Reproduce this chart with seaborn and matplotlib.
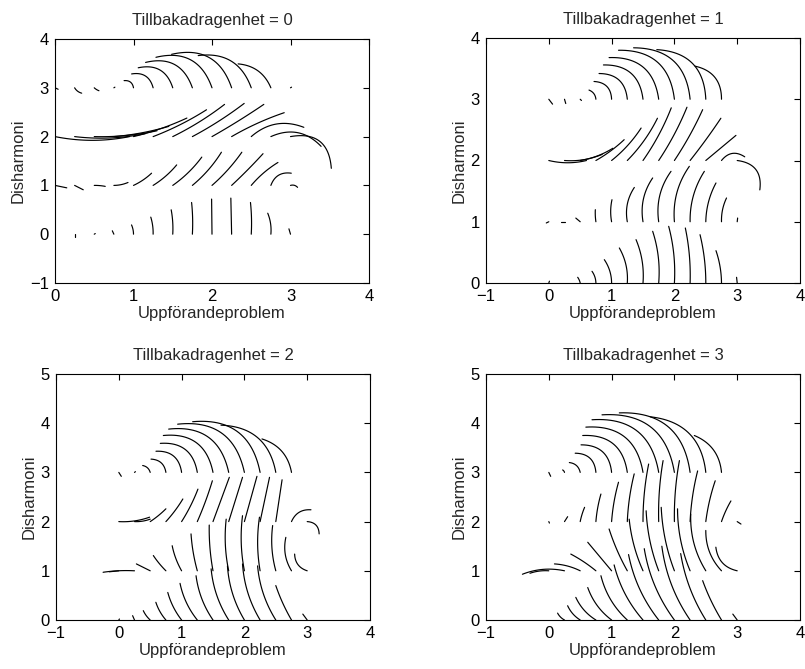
import numpy as np
import pandas as pd
import matplotlib
matplotlib.use("Agg")
import matplotlib.pyplot as plt
import seaborn as sns

sns.set_style("white")
plt.rcParams['font.family'] = ['Liberation Sans', 'DejaVu Sans']

nan = np.nan

# ---------------- data -----------------
grid_x = [0.0, 0.25, 0.5, 0.75, 1.0, 1.25, 1.5, 1.75, 2.0, 2.25, 2.5, 2.75, 3.0]
grid_y = [0, 1, 2, 3]

titles = ["Tillbakadragenhet = 0", "Tillbakadragenhet = 1",
          "Tillbakadragenhet = 2", "Tillbakadragenhet = 3"]
x_label = "Uppförandeproblem"
y_label = "Disharmoni"
x_limits = [(0, 4), (-1, 4), (-1, 4), (-1, 4)]
y_limits = [(-1, 4), (0, 4), (0, 5), (0, 5)]

# end points of each streak (rows: grid_y = 0,1,2,3 ; columns: grid_x)
# and signed bend of the streak (curvature)
t0_end_x = [
    [nan, 0.25, 0.51, 0.73, 0.975, 1.22, 1.48, 1.74, 1.995, 2.24, 2.49, 2.71, 2.98],
    [0.15, 0.36, 0.64, 0.93, 1.23, 1.55, 1.87, 2.12, 2.38, 2.65, 2.84, 3.01, 3.09],
    [0.95, 1.15, 1.30, 1.45, 1.68, 1.93, 2.16, 2.41, 2.66, 2.92, 3.17, 3.39, 3.52],
    [0.04, 0.34, 0.56, 0.76, 0.88, 0.976, 1.06, 1.154, 1.286, 1.485, 1.824, 2.333, 3.01],
]
t0_end_y = [
    [nan, -0.06, 0.01, 0.07, 0.19, 0.35, 0.50, 0.65, 0.72, 0.74, 0.65, 0.43, 0.11],
    [0.95, 0.91, 0.98, 1.06, 1.25, 1.42, 1.58, 1.68, 1.68, 1.65, 1.47, 1.25, 0.96],
    [2.00, 2.06, 2.12, 2.21, 2.38, 2.55, 2.66, 2.68, 2.66, 2.49, 2.19, 1.80, 1.35],
    [2.97, 2.89, 2.94, 3.01, 3.147, 3.284, 3.41, 3.52, 3.625, 3.686, 3.66, 3.49, 3.01],
]
t0_bend = [
    [0, 0, 0, 0, -0.1, -0.08, -0.06, -0.04, 0, 0, -0.04, -0.12, 0],
    [0, 0, 0.05, -0.1, -0.08, -0.08, -0.08, -0.08, -0.06, -0.02, 0.08, 0.4, 0.3],
    [-0.1, -0.08, -0.06, -0.05, -0.05, -0.05, -0.05, -0.04, -0.02, 0.05, 0.3, 0.35, 0.55],
    [0, -0.2, -0.1, 0, -0.45, -0.45, -0.45, -0.45, -0.45, -0.45, -0.4, -0.3, 0],
]

t1_end_x = [
    [0.01, nan, 0.46, 0.688, 0.884, 1.123, 1.389, 1.654, 1.909, 2.174, 2.408, 2.662, 2.99],
    [-0.04, 0.19, 0.43, 0.741, 1.006, 1.362, 1.654, 1.946, 2.238, 2.477, 2.662, 2.83, 3.007],
    [0.60, 0.85, 1.02, 1.20, 1.47, 1.73, 1.95, 2.20, 2.45, 2.74, 2.98, 3.12, 3.36],
    [0.06, 0.27, 0.52, 0.64, 0.72, 0.80, 0.87, 0.96, 1.11, 1.35, 1.72, 2.33, nan],
]
t1_end_y = [
    [0.03, nan, 0.093, 0.191, 0.381, 0.572, 0.708, 0.844, 0.925, 0.898, 0.789, 0.528, 0.093],
    [0.98, 1.0, 1.06, 1.197, 1.36, 1.56, 1.715, 1.823, 1.905, 1.823, 1.633, 1.388, 1.061],
    [2.0, 2.10, 2.20, 2.34, 2.53, 2.69, 2.86, 2.87, 2.83, 2.69, 2.41, 2.06, 1.52],
    [2.92, 2.93, 2.98, 3.15, 3.29, 3.42, 3.56, 3.68, 3.80, 3.84, 3.81, 3.54, nan],
]
t1_bend = [
    [0, 0, -0.1, -0.15, -0.15, -0.15, -0.12, -0.1, -0.08, -0.06, -0.06, -0.08, 0],
    [0, 0, 0, 0.05, 0.1, 0.2, 0.2, 0.2, 0.18, 0.15, 0.12, 0.12, 0],
    [-0.12, -0.12, -0.1, -0.06, -0.08, -0.08, -0.06, -0.05, -0.04, -0.02, 0.0, 0.45, 0.5],
    [0, 0, 0, -0.3, -0.45, -0.45, -0.45, -0.45, -0.45, -0.45, -0.45, -0.4, 0],
]

t2_end_x = [
    [0.01, 0.22, 0.39, 0.59, 0.78, 0.975, 1.23, 1.47, 1.73, 1.97, 2.21, 2.50, 2.93],
    [-0.15, -0.25, 0.28, 0.55, 0.85, 1.15, 1.44, 1.71, 1.97, 2.24, 2.45, 2.66, 2.80],
    [0.49, 0.50, 0.75, 1.02, 1.26, 1.49, 1.76, 1.97, 2.20, 2.40, 2.60, 3.06, 3.19],
    [0.04, 0.26, 0.38, 0.513, 0.592, 0.661, 0.709, 0.794, 0.937, 1.176, 1.627, 2.28, nan],
]
t2_end_y = [
    [0.02, 0.088, 0.19, 0.36, 0.56, 0.745, 0.90, 1.04, 1.10, 1.14, 1.10, 0.70, 0.12],
    [0.98, 0.97, 1.14, 1.31, 1.51, 1.75, 1.93, 2.05, 2.12, 2.09, 1.92, 1.68, 1.34],
    [2.09, 2.05, 2.26, 2.46, 2.66, 2.83, 2.90, 2.90, 2.92, 2.90, 2.85, 2.24, 1.75],
    [2.92, 3.01, 3.14, 3.27, 3.43, 3.59, 3.75, 3.88, 3.98, 4.03, 3.96, 3.68, nan],
]
t2_bend = [
    [0, 0, 0.1, 0.1, 0.1, 0.12, 0.12, 0.12, 0.12, 0.12, 0.12, 0.05, 0],
    [0, -0.05, 0, 0.05, 0.08, 0.05, 0.05, 0.08, 0.08, 0.08, 0.1, 0.2, 0.35],
    [-0.1, -0.1, -0.05, -0.05, -0.05, -0.03, 0, 0, 0, 0, 0, 0.35, 0.45],
    [0, 0, -0.3, -0.4, -0.45, -0.45, -0.45, -0.45, -0.45, -0.45, -0.4, -0.3, 0],
]

t3_end_x = [
    [nan, 0.14, 0.30, 0.43, 0.62, 0.83, 1.04, 1.27, 1.52, 1.80, 2.10, 2.45, 2.93],
    [-0.30, -0.42, 0.09, 0.35, 0.62, 0.96, 1.28, 1.55, 1.79, 2.05, 2.26, 2.50, 2.66],
    [0.01, 0.30, 0.57, 0.83, 1.11, 1.36, 1.59, 1.82, 2.08, 2.37, 2.65, 2.90, 3.06],
    [0.03, 0.22, 0.327, 0.42, 0.513, 0.54, 0.59, 0.688, 0.847, 1.123, 1.617, 2.317, nan],
]
t3_end_y = [
    [nan, 0.14, 0.29, 0.46, 0.66, 0.90, 1.12, 1.33, 1.45, 1.50, 1.35, 0.80, 0.12],
    [0.95, 0.93, 1.14, 1.34, 1.58, 1.85, 2.05, 2.22, 2.29, 2.26, 2.15, 1.82, 1.48],
    [1.97, 2.10, 2.29, 2.56, 2.80, 2.97, 3.17, 3.24, 3.24, 3.03, 2.83, 2.42, 1.95],
    [2.92, 3.05, 3.20, 3.39, 3.56, 3.75, 3.92, 4.07, 4.17, 4.21, 4.13, 3.75, nan],
]
t3_bend = [
    [0, 0.15, 0.15, 0.15, 0.15, 0.15, 0.12, 0.12, 0.12, 0.12, 0.1, 0.05, 0],
    [-0.1, -0.15, -0.1, -0.05, 0.0, 0.05, 0.08, 0.08, 0.08, 0.1, 0.15, 0.2, 0.35],
    [0, 0, 0.05, 0.05, 0.05, 0.05, 0.05, 0.05, 0.05, 0.05, 0.05, 0.05, 0],
    [0, -0.2, -0.35, -0.45, -0.45, -0.45, -0.45, -0.45, -0.45, -0.45, -0.4, -0.3, 0],
]

panel_end_x = [t0_end_x, t1_end_x, t2_end_x, t3_end_x]
panel_end_y = [t0_end_y, t1_end_y, t2_end_y, t3_end_y]
panel_bend = [t0_bend, t1_bend, t2_bend, t3_bend]

# ---------------- layout -----------------
W, H = 805, 669
axes_px = [(55, 39, 369, 283), (486, 38, 800, 283),
           (56, 374, 370, 620), (486, 374, 800, 620)]

fig = plt.figure(figsize=(W / 100, H / 100), dpi=100)


def streak_frame(p):
    xmin, xmax = x_limits[p]
    ymin, ymax = y_limits[p]
    l, t, r, b = axes_px[p]
    sx = (r - l) / (xmax - xmin)
    sy = (b - t) / (ymax - ymin)
    rows = []
    sid = 0
    tt = np.linspace(0, 1, 30)
    for j, y0 in enumerate(grid_y):
        for i, x0 in enumerate(grid_x):
            ex = panel_end_x[p][j][i]
            ey = panel_end_y[p][j][i]
            if np.isnan(ex):
                continue
            bnd = panel_bend[p][j][i]
            P0 = np.array([x0 * sx, y0 * sy])
            P2 = np.array([ex * sx, ey * sy])
            c = P2 - P0
            L = np.hypot(*c)
            if L < 1.2:
                P2 = P0 + (c / L * 1.2 if L > 0 else np.array([0.8, 0.8]))
                c = P2 - P0
                L = np.hypot(*c)
            perp = np.array([-c[1], c[0]]) / L
            C = (P0 + P2) / 2 + bnd * L * perp
            pts = ((1 - tt)[:, None] ** 2 * P0 + 2 * ((1 - tt) * tt)[:, None] * C
                   + (tt ** 2)[:, None] * P2)
            for q in pts:
                rows.append((q[0] / sx, q[1] / sy, sid))
            sid += 1
    return pd.DataFrame(rows, columns=["x", "y", "streak"])


for p in range(4):
    l, t, r, b = axes_px[p]
    ax = fig.add_axes([l / W, 1 - b / H, (r - l) / W, (b - t) / H])
    df = streak_frame(p)
    sns.lineplot(data=df, x="x", y="y", units="streak", estimator=None,
                 sort=False, color="black", linewidth=0.85, ax=ax, legend=False)
    xmin, xmax = x_limits[p]
    ymin, ymax = y_limits[p]
    ax.set_xlim(xmin, xmax)
    ax.set_ylim(ymin, ymax)
    ax.set_xticks(range(xmin, xmax + 1))
    ax.set_yticks(range(ymin, ymax + 1))
    ax.set_xticklabels([str(v) if v >= 0 else "\u2212" + str(-v) for v in range(xmin, xmax + 1)])
    ax.set_yticklabels([str(v) if v >= 0 else "\u2212" + str(-v) for v in range(ymin, ymax + 1)])
    ax.tick_params(direction="in", top=True, right=True, length=4, width=0.8,
                   labelsize=12, pad=4.5, colors="black")
    for s in ax.spines.values():
        s.set_color("black")
        s.set_linewidth(0.8)
        s.set_visible(True)
    ax.set_title(titles[p], fontsize=12, pad=10)
    ax.set_xlabel(x_label, fontsize=12, labelpad=1)
    ax.set_ylabel(y_label, fontsize=12, labelpad=3)

fig.savefig("out.png", dpi=100, facecolor="white")
